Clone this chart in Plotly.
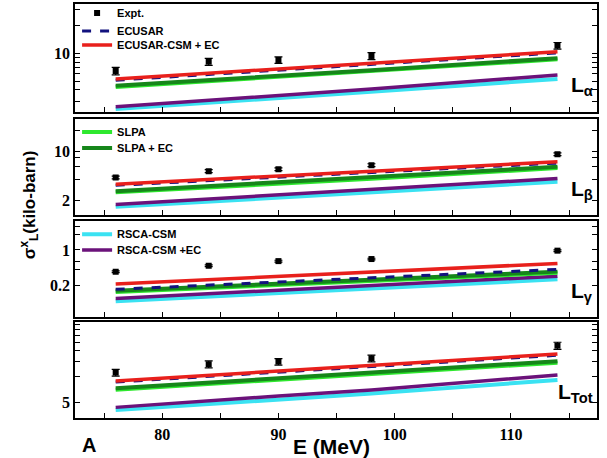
import plotly.graph_objects as go

# incident energies (MeV)
energy = [76, 84, 90, 98, 114]

# L-alpha (kilo-barn)
la_expt = [6.42, 8.1, 8.46, 9.35, 12.1]
la_err = [0.6, 0.7, 0.7, 0.8, 1.0]
la_ecusar = [5.1, 5.9, 6.6, 7.6, 10.1]
la_ecusar_csm = [5.26, 6.07, 6.77, 7.79, 10.4]
la_slpa = [4.3, 4.95, 5.5, 6.35, 8.6]
la_slpa_ec = [4.45, 5.1, 5.7, 6.55, 8.85]
la_rsca = [2.48, 2.9, 3.25, 3.84, 5.26]
la_rsca_ec = [2.63, 3.08, 3.45, 4.09, 5.81]

# L-beta
lb_expt = [4.21, 5.18, 5.53, 6.31, 9.06]
lb_err = [0.2, 0.25, 0.25, 0.3, 0.4]
lb_ecusar = [3.25, 3.8, 4.25, 4.95, 6.75]
lb_ecusar_csm = [3.38, 3.95, 4.42, 5.13, 7.03]
lb_slpa = [2.58, 3.03, 3.42, 4.02, 5.75]
lb_slpa_ec = [2.68, 3.15, 3.56, 4.18, 5.97]
lb_rsca = [1.6, 1.9, 2.17, 2.59, 3.65]
lb_rsca_ec = [1.73, 2.07, 2.37, 2.84, 4.07]

# L-gamma
lg_expt = [0.368, 0.485, 0.6, 0.66, 0.97]
lg_err = [0.015, 0.02, 0.025, 0.025, 0.04]
lg_ecusar = [0.164, 0.199, 0.23, 0.28, 0.41]
lg_ecusar_csm = [0.209, 0.255, 0.296, 0.363, 0.54]
lg_slpa = [0.145, 0.175, 0.202, 0.242, 0.35]
lg_slpa_ec = [0.154, 0.185, 0.214, 0.256, 0.37]
lg_rsca = [0.095, 0.117, 0.137, 0.17, 0.26]
lg_rsca_ec = [0.108, 0.133, 0.157, 0.195, 0.3]

# L-total
lt_expt = [11.2, 14.0, 15.0, 16.4, 23.0]
lt_err = [1.0, 1.3, 1.3, 1.5, 2.2]
lt_ecusar = [8.7, 10.1, 11.25, 13.0, 17.8]
lt_ecusar_csm = [8.94, 10.4, 11.6, 13.4, 18.4]
lt_slpa = [7.1, 8.28, 9.25, 10.7, 14.6]
lt_slpa_ec = [7.35, 8.57, 9.57, 11.1, 15.2]
lt_rsca = [4.11, 4.86, 5.47, 6.4, 9.2]
lt_rsca_ec = [4.42, 5.29, 6.0, 7.04, 10.5]

panels = [
    (la_expt, la_err, la_ecusar, la_ecusar_csm, la_slpa, la_slpa_ec, la_rsca, la_rsca_ec),
    (lb_expt, lb_err, lb_ecusar, lb_ecusar_csm, lb_slpa, lb_slpa_ec, lb_rsca, lb_rsca_ec),
    (lg_expt, lg_err, lg_ecusar, lg_ecusar_csm, lg_slpa, lg_slpa_ec, lg_rsca, lg_rsca_ec),
    (lt_expt, lt_err, lt_ecusar, lt_ecusar_csm, lt_slpa, lt_slpa_ec, lt_rsca, lt_rsca_ec),
]
panel_labels = ['L<sub>α</sub>', 'L<sub>β</sub>', 'L<sub>γ</sub>', 'L<sub>Tot</sub>']

# y ticks per panel: tick values, labelled values, log range
ytick_vals = [
    [3, 4, 5, 6, 7, 8, 9, 10, 20, 30],
    [2, 4, 6, 8, 10, 20],
    [0.2, 0.4, 0.6, 1, 2, 3],
    [5, 10, 15, 20, 25, 30, 35, 40],
]
ytick_shown = [[10], [2, 10], [0.2, 1], [5]]
yranges = [[0.362, 1.535], [0.086, 1.458], [-1.337, 0.58], [0.522, 1.637]]
domains = [[0.739, 1.0], [0.49, 0.722], [0.244, 0.476], [0.0, 0.232]]

c_red = '#e8201c'
c_navy = '#12127e'
c_lime = '#2ee82e'
c_dgreen = '#16861a'
c_cyan = '#3ae2f2'
c_purple = '#6b127a'

# one legend per entry so the rows can sit as close as in the original
# (legend id, vertical centre in paper units)
leg_pos = {
    'expt': ('legend', 0.978),
    'ecusar': ('legend2', 0.935),
    'ecusar_csm': ('legend3', 0.901),
    'slpa': ('legend4', 0.691),
    'slpa_ec': ('legend5', 0.652),
    'rsca': ('legend6', 0.444),
    'rsca_ec': ('legend7', 0.406),
}

fig = go.Figure()

for i, p in enumerate(panels):
    expt, err, ecusar, ecusar_csm, slpa, slpa_ec, rsca, rsca_ec = p
    xa = 'x' if i == 0 else 'x' + str(i + 1)
    ya = 'y' if i == 0 else 'y' + str(i + 1)
    first = i == 0
    fig.add_trace(go.Scatter(x=energy, y=rsca, mode='lines', name='<b>RSCA-CSM</b>',
                             line=dict(color=c_cyan, width=4), xaxis=xa, yaxis=ya,
                             legend=leg_pos['rsca'][0], showlegend=first))
    fig.add_trace(go.Scatter(x=energy, y=rsca_ec, mode='lines', name='<b>RSCA-CSM +EC</b>',
                             line=dict(color=c_purple, width=3.5), xaxis=xa, yaxis=ya,
                             legend=leg_pos['rsca_ec'][0], showlegend=first))
    fig.add_trace(go.Scatter(x=energy, y=slpa, mode='lines', name='<b>SLPA</b>',
                             line=dict(color=c_lime, width=4), xaxis=xa, yaxis=ya,
                             legend=leg_pos['slpa'][0], showlegend=first))
    fig.add_trace(go.Scatter(x=energy, y=slpa_ec, mode='lines', name='<b>SLPA + EC</b>',
                             line=dict(color=c_dgreen, width=4), xaxis=xa, yaxis=ya,
                             legend=leg_pos['slpa_ec'][0], showlegend=first))
    fig.add_trace(go.Scatter(x=energy, y=ecusar, mode='lines', name='<b>ECUSAR</b>',
                             line=dict(color=c_navy, width=3, dash='dash'), xaxis=xa, yaxis=ya,
                             legend=leg_pos['ecusar'][0], showlegend=first))
    fig.add_trace(go.Scatter(x=energy, y=ecusar_csm, mode='lines', name='<b>ECUSAR-CSM + EC</b>',
                             line=dict(color=c_red, width=3.5), xaxis=xa, yaxis=ya,
                             legend=leg_pos['ecusar_csm'][0], showlegend=first))
    fig.add_trace(go.Scatter(x=energy, y=expt, mode='markers', name='<b>Expt.</b>',
                             marker=dict(symbol='square', color='black', size=6),
                             error_y=dict(type='data', array=err, color='black',
                                          thickness=1.2, width=4),
                             xaxis=xa, yaxis=ya,
                             legend=leg_pos['expt'][0], showlegend=first))

serif = 'Liberation Serif'
sans = 'Liberation Sans'
layout = dict(
    width=607, height=458,
    margin=dict(l=75, r=10, t=4, b=40, autoexpand=False),
    plot_bgcolor='white', paper_bgcolor='white',
    font=dict(family=sans, color='black'),
)

for i in range(4):
    xk = 'xaxis' if i == 0 else 'xaxis' + str(i + 1)
    yk = 'yaxis' if i == 0 else 'yaxis' + str(i + 1)
    ya = 'y' if i == 0 else 'y' + str(i + 1)
    bottom = i == 3
    layout[xk] = dict(
        range=[72.5, 117.4], anchor=ya, domain=[0, 1],
        tickvals=[75, 80, 85, 90, 95, 100, 105, 110, 115],
        ticktext=['', '<b>80</b>', '', '<b>90</b>', '', '<b>100</b>', '', '<b>110</b>', '']
        if bottom else [''] * 9,
        ticks='inside', ticklen=5, tickwidth=1, tickcolor='black',
        showline=True, linecolor='black', linewidth=1.5, mirror=True,
        showgrid=False, zeroline=False,
        tickfont=dict(family=serif, size=16, color='black'),
        ticklabelstandoff=1,
    )
    if i > 0:
        layout[xk]['matches'] = 'x'
    layout[yk] = dict(
        type='log', range=yranges[i], domain=domains[i],
        anchor='x' if i == 0 else 'x' + str(i + 1),
        tickvals=ytick_vals[i],
        ticktext=['<b>%g</b>' % v if v in ytick_shown[i] else '' for v in ytick_vals[i]],
        ticks='inside', ticklen=5, tickwidth=1, tickcolor='black',
        showline=True, linecolor='black', linewidth=1.5, mirror='allticks',
        showgrid=False, zeroline=False,
        tickfont=dict(family=serif, size=16, color='black'),
    )

for key, (leg, yc) in leg_pos.items():
    layout[leg] = dict(x=0.004, y=yc, xanchor='left', yanchor='middle',
                       bgcolor='rgba(0,0,0,0)', itemwidth=30,
                       font=dict(family=sans, size=11, color='black'))

fig.update_layout(**layout)

label_y = [0.765, 0.515, 0.268, 0.025]
for i, lab in enumerate(panel_labels):
    fig.add_annotation(text='<b>' + lab + '</b>', xref='paper', yref='paper',
                       x=0.997, y=label_y[i], xanchor='right', yanchor='bottom',
                       showarrow=False, font=dict(family=sans, size=21, color='black'))

fig.add_annotation(text='<b>σ<sup>x</sup><sub>L</sub>(kilo-barn)</b>', xref='paper', yref='paper',
                   x=-0.115, y=0.515, textangle=-90, showarrow=False,
                   font=dict(family=sans, size=17, color='black'))
fig.add_annotation(text='<b>E (MeV)</b>', xref='paper', yref='paper',
                   x=0.492, y=-0.07, yanchor='middle', showarrow=False,
                   font=dict(family=sans, size=21, color='black'))
fig.add_annotation(text='<b>A</b>', xref='paper', yref='paper',
                   x=0.01, y=-0.066, yanchor='middle', showarrow=False,
                   font=dict(family=sans, size=20, color='black'))

fig.write_html('out.html', config={'displayModeBar': False},
               post_script="document.body.style.margin='0px';")
